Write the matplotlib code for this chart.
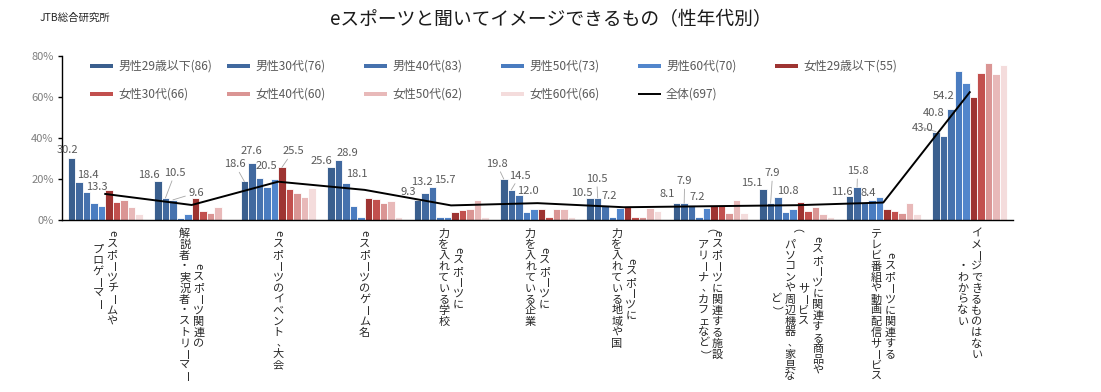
import matplotlib
matplotlib.use('Agg')
import matplotlib.pyplot as plt
import numpy as np
from matplotlib.lines import Line2D

plt.rcParams['font.family'] = ['Noto Sans CJK JP', 'DejaVu Sans']

# ---------------- data ----------------
categories = [
    ["eスポーツチームや", "プロゲーマー"],
    ["eスポーツ関連の", "解説者・実況者・ストリーマー"],
    ["eスポーツのイベント、大会"],
    ["eスポーツのゲーム名"],
    ["eスポーツに", "力を入れている学校"],
    ["eスポーツに", "力を入れている企業"],
    ["eスポーツに", "力を入れている地域や国"],
    ["eスポーツに関連する施設", "（アリーナ、カフェなど）"],
    ["eスポーツに関連する商品や", "サービス", "（パソコンや周辺機器、家具な", "ど）"],
    ["eスポーツに関連する", "テレビ番組や動画配信サービス"],
    ["イメージできるものはない", "・わからない"],
]

series_names = ["男性29歳以下(86)", "男性30代(76)", "男性40代(83)", "男性50代(73)", "男性60代(70)",
                "女性29歳以下(55)", "女性30代(66)", "女性40代(60)", "女性50代(62)", "女性60代(66)"]
total_name = "全体(697)"

male_u29 = [30.2, 18.6, 18.6, 25.6, 9.3, 19.8, 10.5, 8.1, 15.1, 11.6, 43.0]
male_30s = [18.4, 10.5, 27.6, 28.9, 13.2, 14.5, 10.5, 7.9, 7.9, 15.8, 40.8]
male_40s = [13.3, 9.6, 20.5, 18.1, 15.7, 12.0, 7.2, 7.2, 10.8, 8.4, 54.2]
male_50s = [8.0, 0.9, 16.0, 6.6, 1.1, 3.7, 1.1, 1.1, 3.9, 9.4, 72.5]
male_60s = [6.7, 2.5, 19.6, 1.1, 1.1, 5.2, 5.4, 5.6, 5.3, 11.1, 67.0]
female_u29 = [14.2, 10.3, 25.5, 10.3, 3.6, 5.2, 6.8, 7.1, 8.6, 5.2, 60.0]
female_30s = [8.7, 4.3, 14.7, 10.2, 4.5, 1.2, 1.1, 7.2, 4.4, 4.4, 71.5]
female_40s = [9.5, 3.2, 13.1, 8.2, 4.9, 4.9, 1.1, 3.4, 6.2, 3.4, 76.7]
female_50s = [6.3, 6.1, 11.1, 9.2, 9.4, 4.9, 5.4, 9.3, 2.9, 7.9, 71.2]
female_60s = [2.7, 0.0, 15.2, 1.1, 1.2, 1.2, 4.1, 3.0, 1.1, 2.9, 75.4]
total = [12.5, 7.1, 18.5, 14.5, 6.9, 8.0, 6.0, 6.5, 7.0, 8.3, 62.3]

series_values = [male_u29, male_30s, male_40s, male_50s, male_60s,
                 female_u29, female_30s, female_40s, female_50s, female_60s]

y_ticks = [0, 20, 40, 60, 80]

# ---------------- style ----------------
colors = ["#3A5F8E", "#41699F", "#4672AE", "#4A7CC0", "#5286CC",
          "#9E3432", "#C2504E", "#DA9594", "#E8B9B9", "#F4DCDC"]

# data labels: (group, series) -> (dx px, dy px, leader line)
label_layout = {
    (0, 0): (-4.5, 7.6, False), (0, 1): (9, 7, False), (0, 2): (10.5, 5, False),
    (1, 0): (-9, 6.4, False), (1, 1): (9.5, 25, True), (1, 2): (23, 7, True),
    (2, 0): (-9.5, 17, True), (2, 1): (0, 12, False), (2, 2): (6.5, 11.5, False), (2, 5): (11, 16, True),
    (3, 0): (-9, 6, False), (3, 1): (9.5, 7, False), (3, 2): (11, 9, False),
    (4, 0): (-9.5, 8, False), (4, 1): (-3, 11, False), (4, 2): (12.5, 7, False),
    (5, 0): (-7, 15, True), (5, 1): (8.5, 14, True), (5, 2): (9, 4, False),
    (6, 0): (-8.5, 5, False), (6, 1): (-1, 19, True), (6, 2): (4.5, 8.5, False),
    (7, 0): (-9, 9, False), (7, 1): (0.5, 22, True), (7, 2): (6, 8, False),
    (8, 0): (-11.5, 5.5, False), (8, 1): (2, 30, True), (8, 2): (9.5, 6, False),
    (9, 0): (-8, 4, False), (9, 1): (0.5, 16, True), (9, 2): (4, 9, False),
    (10, 0): (-13.5, 4, True), (10, 1): (-10, 23, False), (10, 2): (-7.5, 13, False),
}

W, H = 1101, 392
fig = plt.figure(figsize=(W / 100, H / 100), dpi=100)
ax_left, ax_right, ax_top, ax_bottom = 62, 1013, 56, 219.5
ax = fig.add_axes([ax_left / W, 1 - ax_bottom / H, (ax_right - ax_left) / W, (ax_bottom - ax_top) / H])

n_groups = len(categories)
n_series = len(series_values)
x = np.arange(n_groups)
group_px = (ax_right - ax_left) / n_groups
bar_w = 7.5 / group_px

for s, (vals, col) in enumerate(zip(series_values, colors)):
    ax.bar(x + (s - (n_series - 1) / 2) * bar_w, vals, width=bar_w, color=col,
           edgecolor='white', linewidth=0.6, zorder=2)

ax.plot(x, total, color='black', lw=1.4, zorder=3)

ax.set_xlim(-0.5, n_groups - 0.5)
ax.set_ylim(0, 80)
ax.set_yticks(y_ticks)
ax.set_yticklabels([f"{t}%" for t in y_ticks], color='#7f7f7f', fontsize=8)
ax.set_xticks([])
for sp in ['top', 'right']:
    ax.spines[sp].set_visible(False)
ax.spines['left'].set_color('black')
ax.spines['bottom'].set_color('black')
ax.spines['left'].set_linewidth(1.0)
ax.spines['bottom'].set_linewidth(1.0)
ax.tick_params(axis='y', direction='out', length=3, width=1, color='black', pad=3)

# data labels
px2pt = 0.72
for (g, s), (dx, dy, leader) in label_layout.items():
    v = series_values[s][g]
    bx = x[g] + (s - (n_series - 1) / 2) * bar_w
    kw = {}
    if leader:
        kw['arrowprops'] = dict(arrowstyle='-', color='#a6a6a6', lw=0.6, shrinkA=0, shrinkB=0)
    ax.annotate(f"{v:.1f}", xy=(bx, v), xytext=(dx * px2pt, dy * px2pt), textcoords='offset points',
                ha='center', va='center', fontsize=8, color='#595959', zorder=5, **kw)

# vertical category labels
rot_chars = set('ー（）()e')
pitch = 11.0
col_sp = 14.0
top_gap = 8.5
for g, lines in enumerate(categories):
    n = len(lines)
    maxlen = max(len(l) for l in lines)
    cy = -(top_gap + maxlen * pitch / 2)
    for k, line in enumerate(lines):
        cx = ((n - 1) / 2 - k) * col_sp
        L = len(line)
        for i, ch in enumerate(line):
            yy = cy + (L / 2 - i - 0.5) * pitch
            xx = cx
            rot = -90 if ch in rot_chars else 0
            fs = 8
            if ch == '、':
                xx += 3.0
                yy += 1.0
                fs = 7
            ax.annotate(ch, xy=(x[g], 0), xycoords=ax.get_xaxis_transform(),
                        xytext=(xx * px2pt, yy * px2pt), textcoords='offset points',
                        ha='center', va='center', rotation=rot, fontsize=fs,
                        color='#262626', annotation_clip=False)

# legend (manual, row-major, equal pitch)
leg_x0 = (90 - ax_left) / (ax_right - ax_left)
leg_pitch = 137 / (ax_right - ax_left)
handle_len = 23 / (ax_right - ax_left)
text_off = 28 / (ax_right - ax_left)
row_y = [(ax_bottom - 66) / (ax_bottom - ax_top), (ax_bottom - 94) / (ax_bottom - ax_top)]
entries = [(n, c, 4.0) for n, c in zip(series_names, colors)] + [(total_name, 'black', 1.4)]
for idx, (name, col, lw) in enumerate(entries):
    r, c = divmod(idx, 6)
    lx = leg_x0 + c * leg_pitch
    ax.add_line(Line2D([lx, lx + handle_len], [row_y[r], row_y[r]], transform=ax.transAxes,
                       color=col, lw=lw * 0.72 if lw > 2 else lw, solid_capstyle='butt', clip_on=False))
    ax.text(lx + text_off, row_y[r], name, transform=ax.transAxes, ha='left', va='center',
            fontsize=8.6, color='#595959')

fig.text(0.5, 1 - 20 / H, "eスポーツと聞いてイメージできるもの（性年代別）", ha='center', va='center',
         fontsize=13.5, color='#1a1a1a')
fig.text(40 / W, 1 - 18 / H, "JTB総合研究所", ha='left', va='center', fontsize=7.5, color='#262626')

fig.savefig('out.png', dpi=100, facecolor='white')
